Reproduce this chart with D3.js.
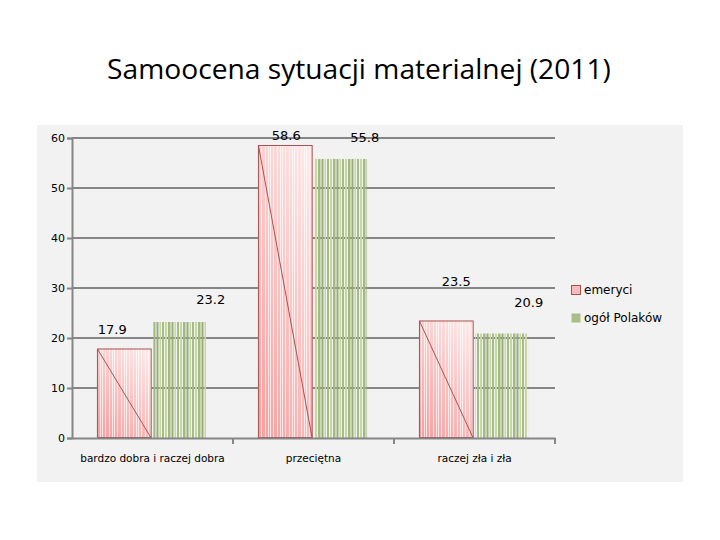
<!DOCTYPE html>
<html>
<head>
<meta charset="utf-8">
<script src="https://cdn.jsdelivr.net/npm/d3@7"></script>
<style>
    body { margin: 0; background: #ffffff; }
    svg { display: block; }
</style>
</head>
<body>
<svg id="chart"></svg>
<script>
// data
const categories = ['bardzo dobra i raczej dobra', 'przeciętna', 'raczej zła i zła'];
const seriesNames = ['emeryci', 'ogół Polaków'];
const emeryci = [17.9, 58.6, 23.5];
const ogolPolakow = [23.2, 55.8, 20.9];
const yTicks = [0, 10, 20, 30, 40, 50, 60];

// the value labels sit at odd places in the original, so nudge them (px)
const labelNudge = [
    [[-12, -19], [1, -10], [10, -39]],
    [[30, -23], [23, -22], [26, -31]]
];

const width = 720, height = 540;
const margin = { top: 138, right: 165, bottom: 102, left: 72 };

const svg = d3.select('#chart')
    .attr('width', width)
    .attr('height', height);

// patterns for the striped bars
const defs = svg.append('defs');

const pinkGrad = defs.append('linearGradient')
    .attr('id', 'pinkGrad')
    .attr('x1', '0.8').attr('y1', '0')
    .attr('x2', '0.2').attr('y2', '1');
pinkGrad.append('stop').attr('offset', '0%').attr('stop-color', '#fde6e6');
pinkGrad.append('stop').attr('offset', '100%').attr('stop-color', '#f6a2a2');

const pinkPattern = defs.append('pattern')
    .attr('id', 'pinkStripes')
    .attr('patternUnits', 'userSpaceOnUse')
    .attr('width', 12).attr('height', 10);
[1, 4, 6, 9].forEach(px => {
    pinkPattern.append('rect')
        .attr('x', px).attr('y', 0)
        .attr('width', 1).attr('height', 10)
        .attr('fill', '#ffffff')
        .attr('opacity', 0.7);
});

const greenPattern = defs.append('pattern')
    .attr('id', 'greenStripes')
    .attr('patternUnits', 'userSpaceOnUse')
    .attr('width', 15).attr('height', 10);
[[0, 2, '#c6d8a2'], [3, 2.5, '#a3b981'], [6.5, 2, '#98ae77'], [9.5, 1.5, '#c6d8a2'], [12, 2, '#a7bc85']].forEach(d => {
    greenPattern.append('rect')
        .attr('x', d[0]).attr('y', 0)
        .attr('width', d[1]).attr('height', 10)
        .attr('fill', d[2]);
});

// light grey panel behind the chart
svg.append('rect')
    .attr('x', 37).attr('y', 125)
    .attr('width', 646).attr('height', 357)
    .attr('fill', '#f2f2f2');

// title
const title = svg.append('text')
    .attr('x', 359)
    .attr('y', 79)
    .attr('text-anchor', 'middle')
    .style('font-family', '"Open Sans", sans-serif')
    .style('font-size', '28px')
    .style('fill', '#000')
    .text('Samoocena sytuacji materialnej (2011)');
const titleLen = title.node().getComputedTextLength();
title.style('font-size', (28 * 504 / titleLen) + 'px');

const plotRight = 555;
const plotBottom = height - margin.bottom;

let x0 = d3.scaleBand()
    .domain(categories)
    .range([margin.left, plotRight])
    .paddingInner(0.31)
    .paddingOuter(0.155);

let x1 = d3.scaleBand()
    .domain(seriesNames)
    .range([0, x0.bandwidth()])
    .paddingInner(0.03);

let y = d3.scaleLinear()
    .domain([0, 60])
    .range([plotBottom, margin.top]);

// horizontal grid lines
svg.append('g')
    .selectAll('line')
    .data(yTicks.filter(t => t > 0))
    .enter().append('line')
    .attr('x1', margin.left)
    .attr('x2', plotRight)
    .attr('y1', d => y(d))
    .attr('y2', d => y(d))
    .style('stroke', '#868686')
    .style('stroke-width', 2);

// bars
const series = [emeryci, ogolPolakow];
series.forEach((values, s) => {
    const g = svg.append('g');
    const bw = x1.bandwidth();
    values.forEach((v, i) => {
        const bx = x0(categories[i]) + x1(seriesNames[s]);
        if (s === 0) {
            g.append('rect')
                .attr('x', bx).attr('y', y(v))
                .attr('width', bw).attr('height', y(0) - y(v))
                .attr('fill', 'url(#pinkGrad)');
            g.append('rect')
                .attr('x', bx).attr('y', y(v))
                .attr('width', bw).attr('height', y(0) - y(v))
                .attr('fill', 'url(#pinkStripes)');
            g.append('rect')
                .attr('x', bx + 0.5).attr('y', y(v) + 0.5)
                .attr('width', bw - 1).attr('height', y(0) - y(v) - 1)
                .attr('fill', 'none')
                .style('stroke', '#a8524f')
                .style('stroke-width', 1);
            g.append('line')
                .attr('x1', bx + 0.5).attr('y1', y(v) + 0.5)
                .attr('x2', bx + bw - 0.5).attr('y2', y(0))
                .style('stroke', '#a8524f')
                .style('stroke-width', 1);
        } else {
            g.append('rect')
                .attr('x', bx).attr('y', y(v))
                .attr('width', bw - 2).attr('height', y(0) - y(v))
                .attr('fill', 'url(#greenStripes)');
        }
        g.append('text')
            .attr('x', bx + bw / 2 + labelNudge[s][i][0])
            .attr('y', y(v) + labelNudge[s][i][1])
            .attr('dy', '0.36em')
            .attr('text-anchor', 'middle')
            .style('font-family', '"DejaVu Sans", sans-serif')
            .style('font-size', '13px')
            .style('fill', '#000')
            .text(v);
    });
});

// y axis
const yAxis = svg.append('g')
    .attr('transform', `translate(${margin.left}, 0)`)
    .call(d3.axisLeft(y).tickValues(yTicks).tickSize(5).tickPadding(2));
yAxis.select('.domain').style('stroke', '#868686').style('stroke-width', 2);
yAxis.selectAll('.tick line').style('stroke', '#868686').style('stroke-width', 2);
yAxis.selectAll('.tick text')
    .style('font-family', '"DejaVu Sans", sans-serif')
    .style('font-size', '11px')
    .style('fill', '#000');

// x axis
const xAxis = svg.append('g')
    .attr('transform', `translate(0, ${plotBottom})`)
    .call(d3.axisBottom(x0).tickSize(0).tickPadding(17));
xAxis.select('.domain').style('stroke', '#868686').style('stroke-width', 2);
xAxis.selectAll('.tick text')
    .style('font-family', '"DejaVu Sans", sans-serif')
    .style('font-size', '10.5px')
    .style('fill', '#000');

// category separators on the x axis
const step = x0.step();
svg.append('g')
    .selectAll('line')
    .data(categories.map((c, i) => i + 1))
    .enter().append('line')
    .attr('x1', d => margin.left + step * d)
    .attr('x2', d => margin.left + step * d)
    .attr('y1', plotBottom)
    .attr('y2', plotBottom + 6)
    .style('stroke', '#868686')
    .style('stroke-width', 2);

// legend
const legend = svg.append('g')
    .attr('transform', 'translate(571, 285)');
seriesNames.forEach((name, i) => {
    const row = legend.append('g').attr('transform', `translate(0, ${i * 28})`);
    row.append('rect')
        .attr('x', 0.5).attr('y', 0.5)
        .attr('width', 9).attr('height', 9)
        .attr('fill', i === 0 ? '#f9bcbc' : '#a9bd86')
        .style('stroke', i === 0 ? '#a8524f' : 'none');
    row.append('text')
        .attr('x', 13)
        .attr('y', 5)
        .attr('dy', '0.36em')
        .style('font-family', '"DejaVu Sans", sans-serif')
        .style('font-size', '12px')
        .style('fill', '#000')
        .text(name);
});
</script>
</body>
</html>
